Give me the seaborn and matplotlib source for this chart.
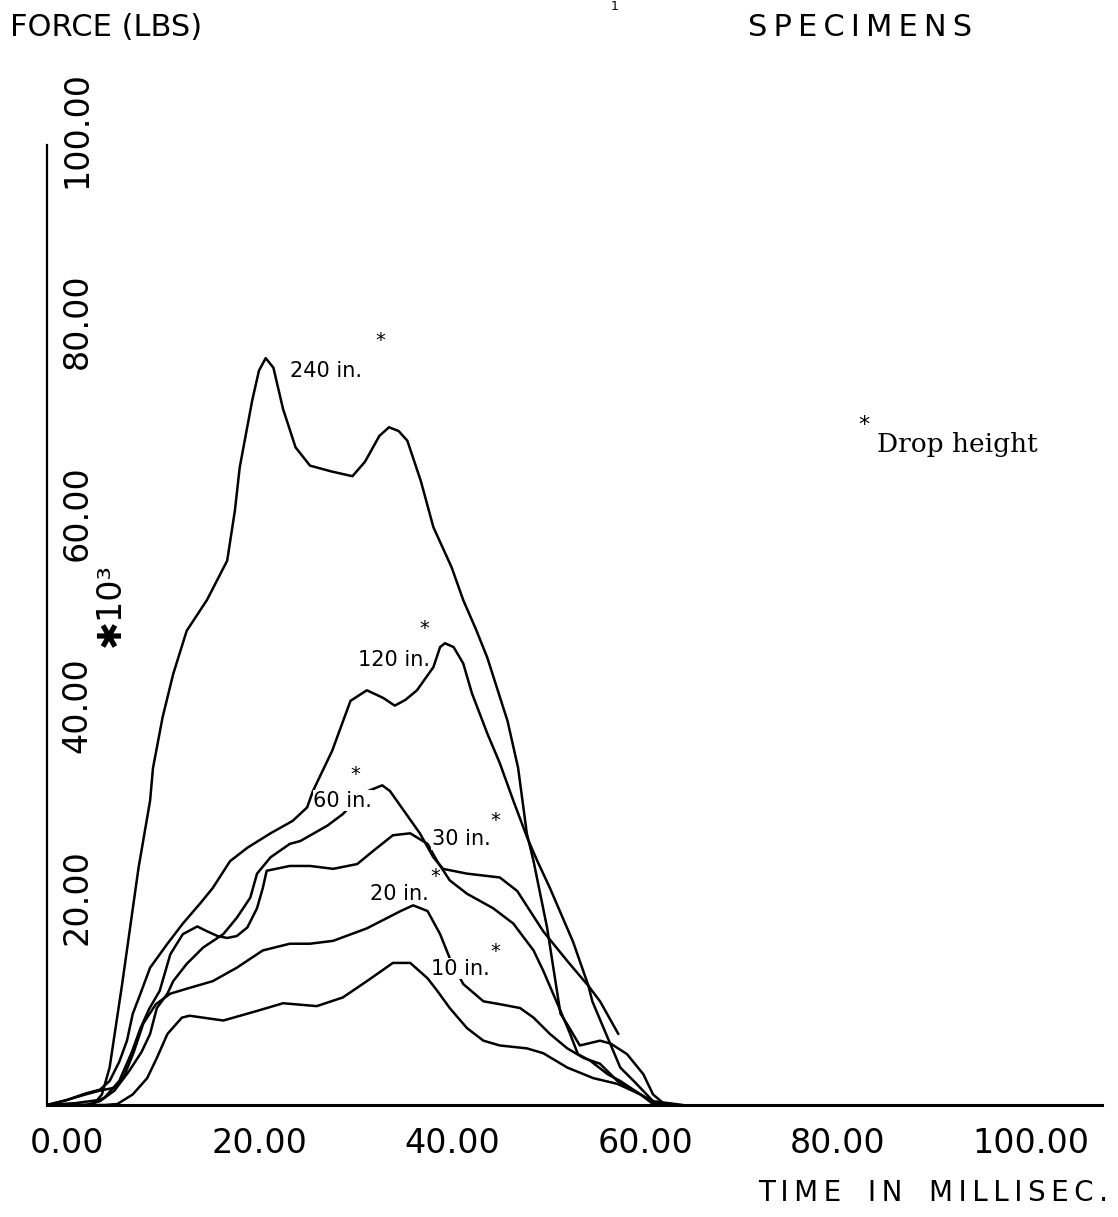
import numpy as np
import pandas as pd
import matplotlib
matplotlib.use("Agg")
import matplotlib.pyplot as plt
import matplotlib.transforms as mtransforms
import seaborn as sns

# force traces, time in ms, force in 1000 lbs
t_240 = [0, 3, 5.2, 5.7, 6.5, 7.8, 9.5, 10.7, 11.0, 12.0, 13.1, 14.5, 16.6, 18.7, 19.5, 20.0,
         21.3, 22.0, 22.7, 23.5, 24.5, 25.8, 27.3, 29.5, 31.7, 33.0, 34.5, 35.5, 36.5, 37.4,
         38.8, 40.1, 42.0, 43.2, 44.5, 45.7, 47.8, 48.9, 49.8, 50.5, 51.9, 53.3, 54.0, 55.3,
         57.4, 58.5, 60.2, 61.9, 62.9, 64.2]
f_240 = [0, 0.2, 0.5, 1.1, 3.9, 12.6, 24.7, 31.7, 35.1, 40.4, 44.9, 49.4, 52.6, 56.7, 61.9, 66.4,
         73.4, 76.5, 77.8, 76.8, 72.5, 68.5, 66.6, 66.0, 65.5, 67.0, 69.7, 70.6, 70.2, 69.2,
         65.0, 60.2, 56.0, 52.6, 49.6, 46.6, 40.0, 35.1, 28.3, 25.4, 18.5, 9.5, 8.4, 6.2,
         6.7, 6.4, 5.3, 3.2, 1.1, 0]

t_120 = [0, 2, 4, 5.5, 6.5, 7.5, 8.3, 8.9, 9.7, 10.7, 12.5, 14.1, 15.9, 17.2, 19.0, 20.8, 23.2,
         25.5, 27.0, 27.6, 29.6, 31.5, 33.2, 34.9, 36.1, 37.2, 38.4, 40.1, 40.8, 41.3, 42.2,
         43.2, 44.1, 45.7, 47.0, 48.4, 49.9, 50.9, 52.2, 54.6, 56.2, 56.6, 59.5, 60.9, 62.9, 66]
f_120 = [0, 0.5, 1.2, 1.6, 2.5, 4.5, 6.7, 9.5, 11.6, 14.3, 16.8, 18.9, 21.0, 22.6, 25.4, 26.8, 28.3,
         29.6, 31.0, 32.7, 36.9, 42.1, 43.2, 42.4, 41.6, 42.2, 43.2, 45.6, 47.7, 48.1, 47.7,
         46.0, 42.9, 38.7, 35.6, 31.7, 27.7, 25.4, 22.6, 17.0, 12.4, 10.8, 3.9, 2.5, 0.4, 0]

t_60 = [0, 4, 5.5, 7, 8.5, 9.8, 10.7, 11.4, 12.5, 13.1, 14.5, 16.2, 18.3, 19.7, 21.1, 21.8, 23.2,
        25.2, 26.3, 29.1, 30.7, 32.8, 34.8, 35.6, 38.7, 40.1, 41.1, 43.6, 47.0, 48.8, 51.5,
        54.0, 56.2, 57.4, 59.3]
f_60 = [0, 0, 0.4, 1.5, 3.5, 5.5, 7.4, 10.1, 11.6, 12.9, 14.7, 16.4, 17.8, 19.5, 21.6, 24.1, 25.8,
        27.2, 27.5, 29.1, 30.3, 32.5, 33.3, 32.7, 28.3, 25.8, 24.6, 24.1, 23.7, 22.3, 18.1,
        15.0, 12.4, 10.8, 7.4]

t_30 = [0, 4.5, 6, 7.5, 8.8, 9.7, 10.6, 11.7, 12.8, 14.1, 15.6, 16.6, 17.7, 18.7, 19.7, 20.8,
        21.8, 22.4, 22.8, 25.2, 27.3, 29.7, 32.2, 33.9, 35.9, 37.7, 39.5, 40.5, 41.8, 43.6,
        46.3, 48.4, 50.5, 51.5, 53.3, 54.3, 55.1, 56.4, 58.2, 59.5, 61.6, 62.9, 65]
f_30 = [0, 0, 0.8, 2.5, 5.5, 8.0, 10.0, 11.9, 15.7, 17.8, 18.6, 18.1, 17.6, 17.4, 17.6, 18.5,
        20.5, 22.6, 24.4, 24.9, 24.9, 24.6, 25.1, 26.5, 28.1, 28.3, 27.2, 25.4, 23.4, 22.0,
        20.5, 18.9, 16.1, 14.0, 9.8, 7.4, 5.3, 4.6, 3.2, 2.5, 1.1, 0.1, 0]

t_20 = [0, 2, 4, 5.5, 7, 8, 9, 10, 11.3, 12.8, 14.8, 17.2, 19.7, 22.4, 25.2, 27.3, 29.7, 33.2,
        36.7, 38.0, 39.5, 40.8, 41.8, 43.2, 45.3, 47.0, 49.1, 50.5, 52.2, 54.0, 55.7, 57.4,
        59.2, 61.6, 63.3, 65]
f_20 = [0, 0.5, 1.1, 1.5, 1.8, 3.0, 5.5, 8.5, 10.5, 11.6, 12.2, 12.9, 14.3, 16.1, 16.8, 16.8,
        17.1, 18.4, 20.2, 20.8, 20.2, 17.8, 15.3, 12.6, 10.8, 10.5, 10.1, 9.1, 7.4, 5.9, 4.9,
        4.3, 2.5, 1.1, 0.1, 0]

t_10 = [0, 6, 7.3, 8.9, 10.4, 11.4, 12.5, 14.0, 14.8, 18.3, 21.8, 24.5, 28.0, 30.7, 33.2, 35.9,
        37.7, 39.5, 40.5, 41.8, 43.6, 45.3, 47.0, 49.8, 51.5, 54.0, 56.7, 59.2, 61.6, 63.3, 65]
f_10 = [0, 0, 0.1, 1.1, 2.8, 4.9, 7.4, 9.1, 9.3, 8.8, 9.8, 10.6, 10.3, 11.2, 12.9, 14.8,
        14.8, 13.2, 11.9, 10.1, 8.0, 6.7, 6.2, 5.9, 5.4, 3.9, 2.8, 2.2, 1.1, 0, 0]

drops = ["240", "120", "60", "30", "20", "10"]
times = [t_240, t_120, t_60, t_30, t_20, t_10]
forces = [f_240, f_120, f_60, f_30, f_20, f_10]

x_ticks = [0, 20, 40, 60, 80, 100]
x_labels = ["0.00", "20.00", "40.00", "60.00", "80.00", "100.00"]
y_ticks = [20, 40, 60, 80, 100]
y_labels = ["20.00", "40.00", "60.00", "80.00", "100.00"]

# where each "xx in." label sits (data coords) and its asterisk
label_pos = [(29.0, 76.5), (36.0, 46.4), (30.7, 31.7), (43.0, 27.7), (36.6, 22.0), (42.9, 14.2)]
star_pos = [(34.1, 79.6), (38.6, 49.6), (31.5, 34.4), (46.0, 29.6), (39.8, 23.8), (46.0, 16.0)]

frames = []
for d, t, f in zip(drops, times, forces):
    frames.append(pd.DataFrame({"time": t, "force": f, "drop": d}))
df = pd.concat(frames, ignore_index=True)

sns.set_style("white")
plt.rcParams['font.family'] = ['DejaVu Sans']
plt.rcParams['text.color'] = 'black'
plt.rcParams['xtick.color'] = 'black'
plt.rcParams['ytick.color'] = 'black'
plt.rcParams['axes.edgecolor'] = 'black'

W, H = 1118, 1217
fig = plt.figure(figsize=(W / 100, H / 100), dpi=100)
ax = fig.add_axes([47 / W, (H - 1105) / H, 1055 / W, 960 / H])

sns.lineplot(data=df, x="time", y="force", units="drop", estimator=None, sort=False,
             color="black", linewidth=1.8, ax=ax)

ax.set_xlim(0, 109.5)
ax.set_ylim(0, 100)
sns.despine(ax=ax)
ax.spines["left"].set_linewidth(1.6)
ax.spines["bottom"].set_linewidth(2.2)
ax.set_xlabel("")
ax.set_ylabel("")

ax.set_xticks(x_ticks)
ax.set_xticklabels(x_labels, fontsize=24)
ax.tick_params(axis="x", direction="out", length=8, width=1.5, pad=8)
shift_x = mtransforms.ScaledTranslation(0.2, 0, fig.dpi_scale_trans)
for lab in ax.get_xticklabels():
    lab.set_transform(lab.get_transform() + shift_x)

ax.set_yticks(y_ticks)
ax.set_yticklabels(y_labels, fontsize=24, rotation=90, ha="center", va="center")
ax.tick_params(axis="y", direction="in", length=8, width=1.5, pad=-21.6)
shift_y = mtransforms.ScaledTranslation(0, 0.16, fig.dpi_scale_trans)
for lab in ax.get_yticklabels():
    lab.set_transform(lab.get_transform() + shift_y)

# curve labels
for d, (lx, ly), (sx, sy) in zip(drops, label_pos, star_pos):
    ax.text(lx, ly, d + " in.", fontsize=15, ha="center", va="center", zorder=5,
            bbox=dict(facecolor="white", edgecolor="none", pad=0.5))
    ax.text(sx, sy, "*", fontsize=14, ha="left", va="center", zorder=6)

# titles and notes
fig.text(10 / W, 1 - 27 / H, "FORCE (LBS)", fontsize=22, ha="left", va="center")
fig.text(748 / W, 1 - 27 / H, "S\u2009P\u2009E\u2009C\u2009I\u2009M\u2009E\u2009N\u2009S",
         fontsize=22, ha="left", va="center")
fig.text(615 / W, 1 - 6 / H, "1", fontsize=9, ha="center", va="center")
fig.text(110 / W, 1 - 605 / H, "\u273110\u00b3", fontsize=24, rotation=90,
         ha="center", va="center")
fig.text(1108 / W, 1 - 1193 / H,
         "T\u2009I\u2009M\u2009E   I\u2009N   M\u2009I\u2009L\u2009L\u2009I\u2009S\u2009E\u2009C\u2009.",
         fontsize=20, ha="right", va="center")
fig.text(858 / W, 1 - 425 / H, "*", fontsize=16, ha="left", va="center")
fig.text(877 / W, 1 - 452 / H, "Drop height", fontsize=19, family="DejaVu Serif",
         ha="left", va="baseline")

fig.savefig("out.png", dpi=100)
